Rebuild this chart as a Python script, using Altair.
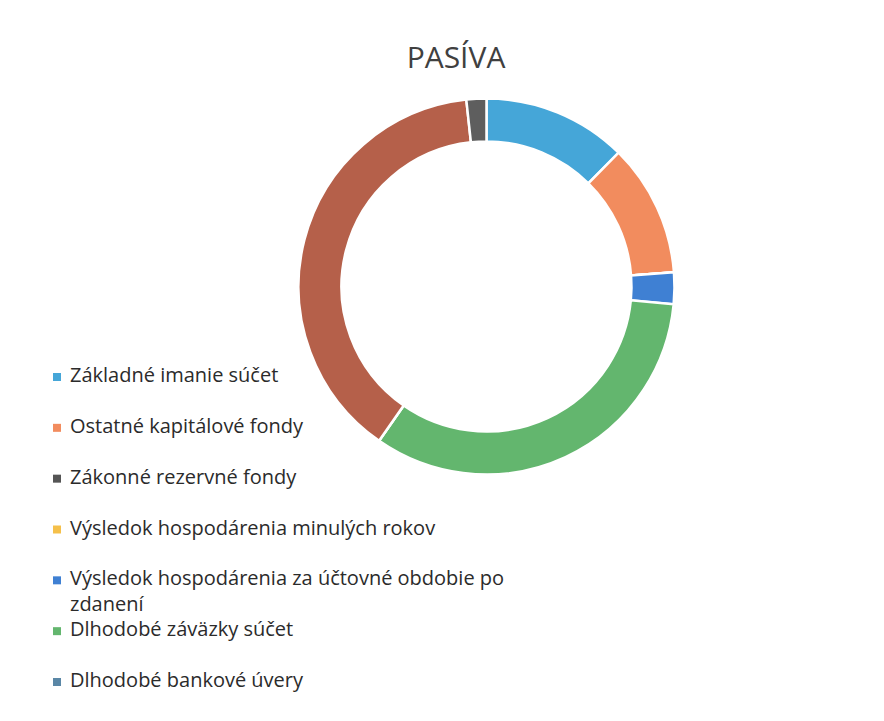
import altair as alt
import pandas as pd

# Slice categories in clockwise order from 12 o'clock
categories = [
    "Základné imanie súčet",
    "Ostatné kapitálové fondy",
    "Zákonné rezervné fondy",
    "Výsledok hospodárenia minulých rokov",
    "Výsledok hospodárenia za účtovné obdobie po zdanení",
    "Dlhodobé záväzky súčet",
    "Dlhodobé bankové úvery",
    "Krátkodobé záväzky súčet",
    "Bankové úvery a výpomoci",
]
# shares in percent, read from the ring
values = [12.3, 11.3, 0.0, 0.0, 2.7, 32.9, 0.0, 38.3, 1.7]
colors = ["#45a6d8", "#f28c5e", "#555555", "#f5c04a", "#3f80d3",
          "#63b66e", "#5a87a6", "#b5604a", "#5e5e5e"]

# legend entries shown in the picture (first seven)
legend_names = categories[:7]
legend_labels = [
    "Základné imanie súčet",
    "Ostatné kapitálové fondy",
    "Zákonné rezervné fondy",
    "Výsledok hospodárenia minulých rokov",
    "Výsledok hospodárenia za účtovné obdobie po\nzdanení",
    "Dlhodobé záväzky súčet",
    "Dlhodobé bankové úvery",
]

df = pd.DataFrame({"cat": categories, "val": values, "idx": list(range(len(categories)))})
leg = pd.DataFrame({"cat": legend_names, "label": legend_labels, "idx": list(range(len(legend_names)))})

color_scale = alt.Scale(domain=categories, range=colors)

PLOT_TOP = 86

arc = alt.Chart(df).mark_arc(
    innerRadius=145, outerRadius=188, stroke="white", strokeWidth=2.5
).encode(
    theta=alt.Theta("val:Q", stack=True),
    order=alt.Order("idx:Q"),
    color=alt.Color("cat:N", scale=color_scale, legend=None),
    x=alt.value(478.5),
    y=alt.value(286.5 - PLOT_TOP),
)

yscale = alt.Scale(domain=legend_names, range=[377 - PLOT_TOP, 682 - PLOT_TOP], padding=0)

sym = alt.Chart(leg).mark_square(size=64, opacity=1).encode(
    x=alt.value(49),
    y=alt.Y("cat:N", scale=yscale, axis=None, sort=legend_names),
    color=alt.Color("cat:N", scale=color_scale, legend=None),
)

txt = alt.Chart(leg).mark_text(
    align="left", baseline="top", dy=-11, font="Open Sans", fontSize=20,
    color="#2b2b2b", lineBreak="\n", lineHeight=26,
).encode(
    x=alt.value(62),
    y=alt.Y("cat:N", scale=yscale, axis=None, sort=legend_names),
    text="label:N",
)

chart = alt.layer(arc, sym, txt).properties(
    width=860,
    height=610,
    padding={"left": 0, "right": 0, "top": 36, "bottom": 0},
    title=alt.TitleParams(
        "PASÍVA", anchor="middle", font="Open Sans", fontSize=30,
        fontWeight="normal", color="#404040", dx=18, offset=12,
    ),
).configure_view(stroke=None)

chart.save("out.html", embed_options={"renderer": "svg", "actions": False})
